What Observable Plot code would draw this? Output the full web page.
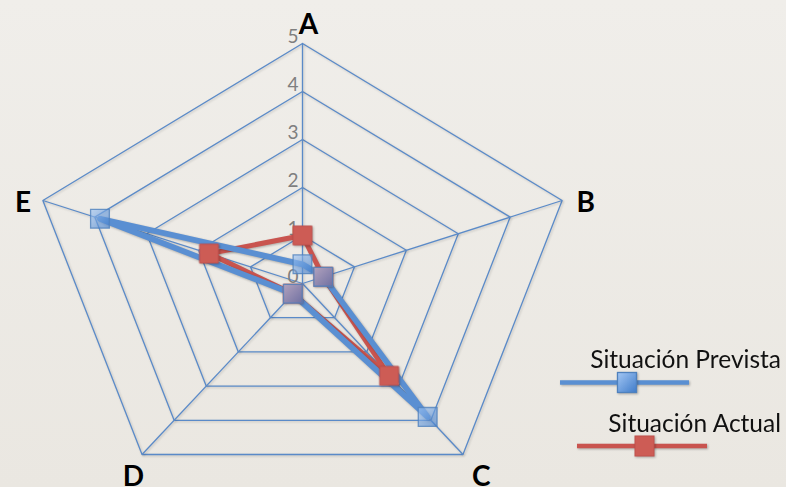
<!DOCTYPE html>
<html><head><meta charset="utf-8">
<script src="https://cdn.jsdelivr.net/npm/d3@7"></script>
<script src="https://cdn.jsdelivr.net/npm/@observablehq/plot@0.6"></script>
<style>
html,body{margin:0;padding:0;}
body{width:786px;height:487px;overflow:hidden;background:linear-gradient(#F0EEEA,#EAE7E1);}
#wrap{position:relative;width:786px;height:487px;}
#wrap > svg{position:absolute;left:0;top:0;}
</style></head><body><div id="wrap"></div>
<script>
// ---- data ----
const categories = ["A", "B", "C", "D", "E"];
const prevista = [0.4, 0.4, 3.9, 0.3, 3.9];
const actual = [1, 0.4, 2.7, 0.3, 1.8];
const ticks = [0, 1, 2, 3, 4, 5];
const seriesNames = ["Situación Prevista", "Situación Actual"];

// ---- layout ----
const W = 786, H = 487;
const CX = 302, CY = 283, XU = 54.6, YU = 45.44; // px per unit
const tilt = 0.0563;
const maxValue = d3.max(ticks);
const n = categories.length;
const ang = i => i * 2 * Math.PI / n;
const px = (v, i) => v * Math.sin(ang(i));
const py = (v, i) => v * (Math.cos(ang(i)) + tilt);

const rings = ticks.filter(t => t > 0).flatMap(t =>
  d3.range(n + 1).map(j => ({ring: t, x: px(t, j % n), y: py(t, j % n)})));
const spokes = categories.map((c, i) => ({x1: 0, y1: 0, x2: px(maxValue, i), y2: py(maxValue, i)}));
const seriesPts = (vals, name) => d3.range(n + 1).map(j =>
  ({series: name, x: px(vals[j % n], j % n), y: py(vals[j % n], j % n)}));
const prevPts = seriesPts(prevista, seriesNames[0]);
const actPts = seriesPts(actual, seriesNames[1]);

// label offset (pixels) away from each outer vertex
const labOffX = i => 22.8 * Math.sin(ang(i)) + 6 * Math.abs(Math.cos(ang(i)));
const labOffY = i => -21 * Math.cos(ang(i)) + 3 + 7.2 * Math.sin(ang(i)) ** 2; // positive = down

const font = "Lato, 'Open Sans', sans-serif";
const gridColor = "#5A8AC8";
const blueLine = "#5A8FD2", redLine = "#C9544F";
const shadow = "drop-shadow(1px 1.5px 1px rgba(0,0,0,0.28))";
const gridShadow = "drop-shadow(1px 1px 0.8px rgba(0,0,0,0.18))";

function defs() {
  const d = d3.create("svg:defs");
  const g = d.append("linearGradient").attr("id", "gblue")
    .attr("x1", 0).attr("y1", 0).attr("x2", 1).attr("y2", 1);
  g.append("stop").attr("offset", "0%").attr("stop-color", "#A3C7F4");
  g.append("stop").attr("offset", "100%").attr("stop-color", "#3F7BC9");
  return d.node();
}

const chart = Plot.plot({
  width: W, height: H, margin: 0,
  x: {domain: [0, 1], range: [CX, CX + XU], axis: null},
  y: {domain: [0, 1], range: [CY, CY - YU], axis: null},
  style: {background: "transparent", overflow: "visible"},
  marks: [
    defs,
    Plot.line(rings, {x: "x", y: "y", z: "ring", stroke: gridColor, strokeWidth: 1.3, strokeLinejoin: "miter", imageFilter: gridShadow}),
    Plot.link(spokes, {x1: "x1", y1: "y1", x2: "x2", y2: "y2", stroke: gridColor, strokeWidth: 1.3, imageFilter: gridShadow}),
    Plot.text(ticks, {x: 0, y: t => py(t, 0), text: t => String(t), textAnchor: "end", dx: -4, dy: -7,
      fill: "#7F7F7F", fontSize: 19, fontFamily: font}),
    Plot.line(actPts, {x: "x", y: "y", stroke: redLine, strokeWidth: 5, imageFilter: shadow}),
    Plot.line(prevPts, {x: "x", y: "y", stroke: blueLine, strokeWidth: 5.8, imageFilter: shadow}),
    Plot.dot(actPts.slice(0, n), {x: "x", y: "y", symbol: "square", r: 10.6, fill: "#CD5C55", stroke: "#C0504D", strokeWidth: 1, imageFilter: shadow}),
    Plot.dot(prevPts.slice(0, n), {x: "x", y: "y", symbol: "square", r: 10.6, fill: "url(#gblue)", fillOpacity: 0.66, stroke: "#4F81BD", strokeOpacity: 0.8, strokeWidth: 1.3}),
    Plot.text(categories, {
      x: (d, i) => px(maxValue, i) + labOffX(i) / XU,
      y: (d, i) => py(maxValue, i) - labOffY(i) / YU,
      text: d => d, fontWeight: "bold", fontSize: 28, fill: "black", fontFamily: font
    })
  ]
});
document.getElementById("wrap").appendChild(chart);

// ---- legend ----
const leg = d3.select("#wrap").append("svg").attr("width", W).attr("height", H)
  .style("pointer-events", "none").style("overflow", "visible");
const legItems = [
  {name: seriesNames[0], color: blueLine, textY: 368, lineY: 382.5, x1: 560, x2: 689, mx: 627, blue: true},
  {name: seriesNames[1], color: redLine, textY: 432, lineY: 446, x1: 577, x2: 707, mx: 644.5, blue: false}
];
legItems.forEach(it => {
  const g = leg.append("g");
  g.append("text").attr("x", 781).attr("y", it.textY).attr("text-anchor", "end")
    .attr("font-family", font).attr("font-size", 24.5).attr("fill", "#111").text(it.name);
  g.append("line").attr("x1", it.x1).attr("x2", it.x2).attr("y1", it.lineY).attr("y2", it.lineY)
    .attr("stroke", it.color).attr("stroke-width", 4.5).style("filter", shadow);
  const r = g.append("rect").attr("x", it.mx - 9.5).attr("y", it.lineY - 10).attr("width", 19).attr("height", 20);
  if (it.blue) r.attr("fill", "url(#gblue)").attr("stroke", "#4F81BD").attr("stroke-width", 1.3).style("filter", shadow);
  else r.attr("fill", "#CD5C55").attr("stroke", "#C0504D").style("filter", shadow);
});
</script></body></html>
